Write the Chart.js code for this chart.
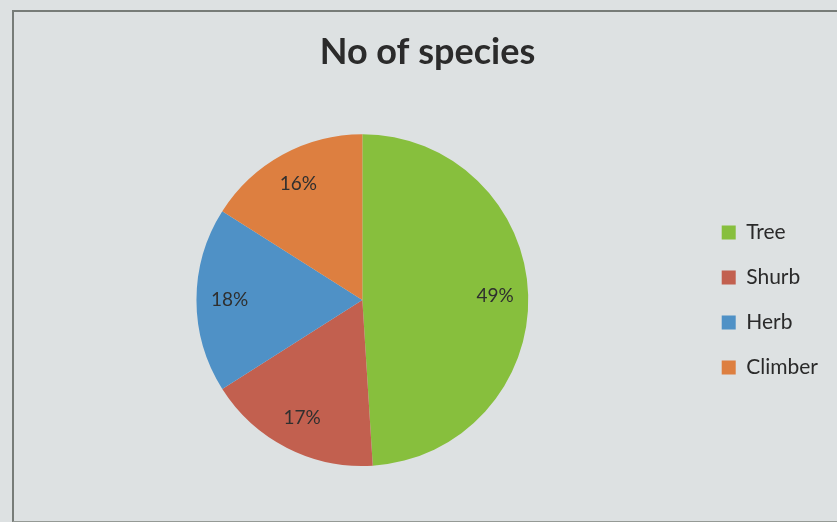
<!DOCTYPE html>
<html>
<head>
<meta charset="utf-8">
<script src="https://cdn.jsdelivr.net/npm/chart.js@4"></script>
<style>
  html, body { margin: 0; padding: 0; background: #dde1e2; }
  #wrap { position: absolute; left: 0; top: 0; width: 837px; height: 522px; }
  #frame { position: absolute; left: 12px; top: 10px; width: 830px; height: 509px;
           border-left: 2px solid #777c78; border-top: 2px solid #777c78; border-bottom: 1px solid #959a96; }
  canvas { position: absolute; left: 0; top: 0; }
</style>
</head>
<body>
<div id="wrap">
  <div id="frame"></div>
  <canvas id="c" width="837" height="522"></canvas>
</div>
<script>
const title = "No of species";
const categories = ["Tree", "Shurb", "Herb", "Climber"];
const values = [49, 17, 18, 16];
const colors = ["#87bf3d", "#c2604f", "#4f91c6", "#dd7f40"];

const labelPlugin = {
  id: "sliceLabels",
  afterDatasetsDraw(chart) {
    const ctx = chart.ctx;
    const meta = chart.getDatasetMeta(0);
    const total = values.reduce((a, b) => a + b, 0);
    ctx.save();
    ctx.font = "19px Lato, 'Open Sans', sans-serif";
    ctx.fillStyle = "#2f2f2f";
    ctx.textAlign = "center";
    ctx.textBaseline = "middle";
    meta.data.forEach((arc, i) => {
      const mid = (arc.startAngle + arc.endAngle) / 2;
      const r = arc.outerRadius * 0.8;
      const x = arc.x + Math.cos(mid) * r;
      const y = arc.y + Math.sin(mid) * r;
      ctx.fillText(Math.round(values[i] / total * 100) + "%", x, y);
    });
    ctx.restore();
  }
};

new Chart(document.getElementById("c"), {
  type: "pie",
  data: {
    labels: categories,
    datasets: [{ data: values, backgroundColor: colors, borderWidth: 0 }]
  },
  options: {
    responsive: false,
    animation: false,
    layout: { padding: { left: 27, right: 9, top: 0, bottom: 56 } },
    plugins: {
      title: {
        display: true,
        text: title,
        color: "#2b2b2b",
        font: { family: "Lato, 'Open Sans', sans-serif", size: 36, weight: "bold" },
        padding: { top: 31, bottom: 60 }
      },
      legend: {
        position: "right",
        fullSize: false,
        labels: {
          boxWidth: 14,
          boxHeight: 14,
          padding: 24,
          color: "#2a2a2a",
          font: { family: "Lato, 'Open Sans', sans-serif", size: 21 }
        }
      },
      tooltip: { enabled: false }
    }
  },
  plugins: [labelPlugin]
});
</script>
</body>
</html>
